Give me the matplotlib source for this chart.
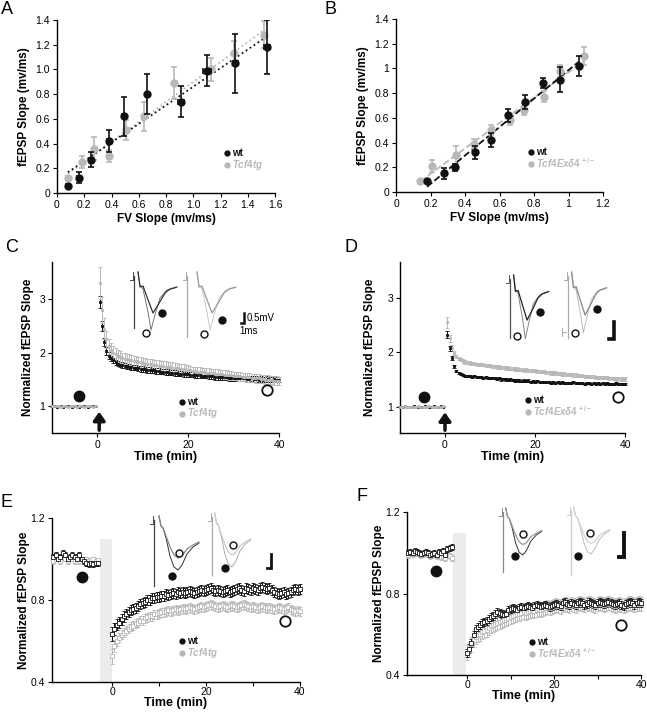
import numpy as np
import matplotlib.pyplot as plt

plt.rcParams['font.family'] = ['Liberation Sans', 'DejaVu Sans']
plt.rcParams['mathtext.fontset'] = 'custom'
plt.rcParams['mathtext.it'] = 'Liberation Sans:italic:bold'
plt.rcParams['mathtext.rm'] = 'Liberation Sans:bold'

BLACK = '#111111'
GRAY = '#b8b8b8'

# ---- panel A: input/output, wt vs Tcf4tg
a_wt_x = [0.08, 0.16, 0.25, 0.38, 0.49, 0.66, 0.91, 1.10, 1.31, 1.54]
a_wt_y = [0.06, 0.125, 0.27, 0.42, 0.62, 0.80, 0.74, 0.99, 1.05, 1.18]
a_wt_yerr = [0.01, 0.045, 0.06, 0.09, 0.16, 0.16, 0.125, 0.125, 0.24, 0.22]
a_wt_xerr = [0.01, 0.01, 0.01, 0.01, 0.01, 0.01, 0.02, 0.03, 0.02, 0.02]
a_tg_x = [0.08, 0.18, 0.27, 0.38, 0.51, 0.64, 0.86, 1.13, 1.30, 1.52]
a_tg_y = [0.12, 0.25, 0.36, 0.30, 0.51, 0.62, 0.89, 1.00, 1.13, 1.28]
a_tg_yerr = [0.02, 0.05, 0.09, 0.05, 0.08, 0.12, 0.13, 0.09, 0.10, 0.11]

# ---- panel B: input/output, wt vs Tcf4Exd4 +/-
b_wt_x = [0.18, 0.28, 0.34, 0.46, 0.55, 0.65, 0.75, 0.85, 0.95, 1.06]
b_wt_y = [0.086, 0.15, 0.20, 0.32, 0.42, 0.62, 0.73, 0.88, 0.91, 1.02]
b_wt_yerr = [0.01, 0.045, 0.03, 0.05, 0.055, 0.05, 0.055, 0.04, 0.10, 0.08]
b_tg_x = [0.14, 0.21, 0.35, 0.45, 0.55, 0.66, 0.74, 0.86, 0.95, 1.09]
b_tg_y = [0.087, 0.21, 0.30, 0.39, 0.50, 0.58, 0.66, 0.77, 0.98, 1.10]
b_tg_yerr = [0.01, 0.05, 0.07, 0.04, 0.04, 0.04, 0.04, 0.045, 0.05, 0.075]

# ---- panel C: LTP, wt vs Tcf4tg (baseline -10..-0.5, post 0.5..40, every 0.5 min)
c_wt_base = [1.0, 1.01, 0.99, 1.0, 1.0, 0.99, 1.0, 1.01, 1.0, 0.99,
             1.0, 1.0, 0.99, 1.0, 1.01, 1.0, 0.99, 1.0, 1.0, 1.0]
c_tg_base = [1.01, 1.0, 1.0, 1.01, 0.99, 1.0, 1.0, 0.99, 1.0, 1.01,
             1.0, 0.99, 1.0, 1.0, 0.99, 1.01, 1.0, 1.0, 0.99, 1.01]
c_wt_post = [2.95, 2.50, 2.20, 2.03, 1.95, 1.90, 1.86, 1.82, 1.80, 1.78,
             1.77, 1.76, 1.75, 1.74, 1.73, 1.72, 1.72, 1.71, 1.70, 1.70,
             1.69, 1.68, 1.68, 1.67, 1.67, 1.66, 1.66, 1.65, 1.65, 1.64,
             1.64, 1.63, 1.63, 1.62, 1.62, 1.61, 1.61, 1.60, 1.60, 1.60,
             1.59, 1.59, 1.58, 1.58, 1.58, 1.57, 1.57, 1.57, 1.56, 1.56,
             1.56, 1.55, 1.55, 1.55, 1.54, 1.54, 1.54, 1.53, 1.53, 1.53,
             1.53, 1.52, 1.52, 1.52, 1.52, 1.51, 1.51, 1.52, 1.51, 1.51,
             1.50, 1.51, 1.50, 1.50, 1.51, 1.50, 1.50, 1.51, 1.50, 1.50]
c_tg_post = [3.30, 2.80, 2.45, 2.25, 2.12, 2.05, 2.00, 1.97, 1.94, 1.92,
             1.90, 1.89, 1.88, 1.87, 1.86, 1.85, 1.84, 1.83, 1.82, 1.81,
             1.80, 1.79, 1.79, 1.78, 1.77, 1.77, 1.76, 1.75, 1.75, 1.74,
             1.73, 1.73, 1.72, 1.71, 1.71, 1.70, 1.69, 1.69, 1.68, 1.67,
             1.67, 1.66, 1.66, 1.65, 1.65, 1.64, 1.64, 1.63, 1.63, 1.62,
             1.62, 1.61, 1.61, 1.60, 1.60, 1.59, 1.59, 1.58, 1.58, 1.57,
             1.57, 1.56, 1.56, 1.55, 1.55, 1.54, 1.54, 1.53, 1.53, 1.52,
             1.52, 1.51, 1.51, 1.50, 1.50, 1.49, 1.49, 1.48, 1.48, 1.47]
c_wt_err = [0.12, 0.10, 0.08, 0.07, 0.06] + [0.05] * 75
c_tg_err = [0.30, 0.25, 0.20, 0.16, 0.14, 0.13, 0.12, 0.12, 0.11, 0.11] + [0.10] * 30 + [0.08] * 40

# ---- panel D: LTP, wt vs Tcf4Exd4 +/-
d_wt_base = [1.0, 0.99, 1.01, 1.0, 0.99, 1.0, 1.01, 0.99, 1.0, 1.0,
             0.99, 1.01, 1.0, 0.99, 1.0, 1.01, 1.0, 0.99, 1.01, 1.0]
d_tg_base = [1.0, 1.0, 1.01, 0.99, 1.0, 1.0, 0.99, 1.0, 1.01, 1.0,
             1.0, 0.99, 1.0, 1.01, 1.0, 0.99, 1.0, 1.0, 1.0, 1.01]
d_wt_post = [2.32, 2.07, 1.89, 1.74, 1.66, 1.62, 1.60, 1.58, 1.57, 1.56,
             1.57, 1.55, 1.56, 1.55, 1.54, 1.55, 1.53, 1.54, 1.53, 1.52,
             1.53, 1.52, 1.51, 1.52, 1.50, 1.51, 1.50, 1.49, 1.50, 1.49,
             1.48, 1.49, 1.48, 1.47, 1.48, 1.47, 1.48, 1.46, 1.47, 1.46,
             1.47, 1.45, 1.46, 1.45, 1.46, 1.45, 1.44, 1.45, 1.44, 1.45,
             1.44, 1.45, 1.43, 1.44, 1.43, 1.44, 1.45, 1.43, 1.44, 1.43,
             1.44, 1.42, 1.43, 1.44, 1.42, 1.43, 1.42, 1.43, 1.42, 1.43,
             1.42, 1.43, 1.42, 1.41, 1.42, 1.43, 1.42, 1.41, 1.42, 1.42]
d_tg_post = [2.55, 2.25, 2.08, 1.98, 1.92, 1.88, 1.86, 1.84, 1.82, 1.81,
             1.80, 1.79, 1.79, 1.78, 1.78, 1.77, 1.77, 1.76, 1.75, 1.75,
             1.74, 1.74, 1.73, 1.73, 1.72, 1.72, 1.71, 1.71, 1.70, 1.70,
             1.69, 1.69, 1.68, 1.68, 1.67, 1.68, 1.67, 1.66, 1.66, 1.66,
             1.65, 1.65, 1.64, 1.64, 1.63, 1.63, 1.62, 1.62, 1.62, 1.61,
             1.61, 1.60, 1.60, 1.59, 1.59, 1.59, 1.58, 1.58, 1.57, 1.57,
             1.57, 1.56, 1.56, 1.55, 1.55, 1.55, 1.54, 1.54, 1.54, 1.53,
             1.53, 1.53, 1.52, 1.52, 1.52, 1.51, 1.52, 1.51, 1.51, 1.51]
d_wt_err = [0.06, 0.05, 0.04, 0.03] + [0.02] * 76
d_tg_err = [0.10, 0.06, 0.05, 0.04] + [0.03] * 76

# ---- panel E: LTD, wt vs Tcf4tg (baseline -12.5..-3, post 0..40)
e_wt_base = [1.01, 1.02, 1.0, 1.01, 1.03, 1.02, 1.0, 1.01, 1.02, 1.01,
             1.0, 1.02, 1.0, 0.99, 0.98, 0.975, 0.98, 0.975, 0.98, 0.98]
e_tg_base = [0.99, 1.0, 1.0, 0.99, 1.01, 1.0, 0.99, 1.0, 1.0, 0.99,
             1.0, 0.99, 1.0, 0.99, 1.0, 0.99, 0.995, 1.0, 0.99, 0.995]
e_wt_post = [0.635, 0.66, 0.68, 0.69, 0.705, 0.72, 0.73, 0.74, 0.75, 0.755, 0.76,
             0.77, 0.78, 0.785, 0.79, 0.80, 0.80, 0.81, 0.81, 0.815, 0.815,
             0.82, 0.82, 0.83, 0.825, 0.83, 0.835, 0.83, 0.84, 0.835, 0.84,
             0.835, 0.84, 0.845, 0.84, 0.835, 0.84, 0.845, 0.85, 0.845, 0.85,
             0.855, 0.86, 0.85, 0.845, 0.85, 0.845, 0.84, 0.845, 0.85, 0.84,
             0.845, 0.85, 0.855, 0.86, 0.85, 0.845, 0.86, 0.855, 0.85, 0.86,
             0.855, 0.85, 0.86, 0.865, 0.86, 0.855, 0.86, 0.85, 0.84, 0.835,
             0.83, 0.835, 0.84, 0.83, 0.835, 0.84, 0.85, 0.855, 0.85, 0.855]
e_tg_post = [0.525, 0.575, 0.60, 0.615, 0.63, 0.64, 0.65, 0.66, 0.67, 0.675, 0.685,
             0.69, 0.70, 0.70, 0.71, 0.715, 0.72, 0.72, 0.73, 0.73, 0.735,
             0.74, 0.74, 0.745, 0.75, 0.745, 0.75, 0.755, 0.75, 0.755, 0.76,
             0.755, 0.76, 0.765, 0.76, 0.755, 0.76, 0.765, 0.77, 0.765, 0.77,
             0.775, 0.78, 0.775, 0.77, 0.765, 0.77, 0.775, 0.77, 0.765, 0.77,
             0.775, 0.77, 0.765, 0.77, 0.775, 0.78, 0.775, 0.77, 0.765, 0.77,
             0.765, 0.76, 0.765, 0.77, 0.765, 0.76, 0.765, 0.76, 0.755, 0.76,
             0.765, 0.76, 0.755, 0.76, 0.765, 0.755, 0.75, 0.745, 0.75, 0.745]
e_wt_err = [0.035, 0.03] + [0.025] * 79
e_tg_err = [0.035, 0.03] + [0.022] * 79
e_base_err = [0.012] * 20

# ---- panel F: LTD, wt vs Tcf4Exd4 +/- (baseline -13.5..-3.5, post 0..40)
f_wt_base = [1.0, 1.005, 1.0, 1.01, 1.005, 1.0, 0.995, 1.0, 1.005, 1.0, 0.99,
             0.995, 1.0, 0.99, 1.005, 1.0, 1.01, 0.99, 1.02, 1.025, 1.03]
f_tg_base = [0.99, 1.0, 0.995, 1.0, 1.005, 0.995, 0.99, 0.995, 1.0, 0.995, 0.985,
             0.99, 0.995, 0.985, 0.99, 0.98, 0.985, 0.975, 0.99, 0.985, 0.975]
f_wt_post = [0.51, 0.53, 0.555, 0.595, 0.625, 0.635, 0.645, 0.655, 0.66, 0.665, 0.675,
             0.685, 0.69, 0.70, 0.71, 0.705, 0.70, 0.695, 0.70, 0.72, 0.725,
             0.73, 0.725, 0.72, 0.73, 0.735, 0.73, 0.735, 0.74, 0.735, 0.73,
             0.74, 0.745, 0.74, 0.735, 0.74, 0.745, 0.74, 0.735, 0.74, 0.745,
             0.75, 0.745, 0.74, 0.755, 0.76, 0.75, 0.745, 0.755, 0.75, 0.745,
             0.755, 0.76, 0.755, 0.745, 0.75, 0.76, 0.755, 0.75, 0.745, 0.755,
             0.76, 0.755, 0.75, 0.755, 0.76, 0.755, 0.75, 0.745, 0.75, 0.755,
             0.745, 0.74, 0.75, 0.755, 0.76, 0.755, 0.745, 0.755, 0.76, 0.755]
f_tg_post = [0.51, 0.525, 0.55, 0.57, 0.585, 0.595, 0.60, 0.61, 0.615, 0.62, 0.63,
             0.64, 0.645, 0.65, 0.655, 0.66, 0.665, 0.67, 0.675, 0.68, 0.685,
             0.69, 0.695, 0.70, 0.70, 0.705, 0.71, 0.705, 0.71, 0.715, 0.72,
             0.715, 0.72, 0.725, 0.72, 0.725, 0.73, 0.735, 0.73, 0.735, 0.74,
             0.745, 0.74, 0.735, 0.745, 0.75, 0.745, 0.74, 0.75, 0.745, 0.74,
             0.75, 0.755, 0.75, 0.745, 0.75, 0.755, 0.75, 0.745, 0.74, 0.75,
             0.755, 0.75, 0.745, 0.75, 0.755, 0.75, 0.745, 0.74, 0.745, 0.75,
             0.745, 0.74, 0.745, 0.75, 0.755, 0.75, 0.745, 0.75, 0.755, 0.75]
f_wt_err = [0.02] * 81
f_tg_err = [0.035] * 81
f_base_err = [0.015] * 21

# ---- inset trace shapes (relative pixel offsets from stimulus artifact)
ltp_x_shallow = [4, 6, 9, 13, 19, 24, 31, 36, 43]
ltp_y_shallow = [0, 15, 14, 25, 41, 33, 21, 17, 15]
ltp_x_deep = [4, 6, 9, 14, 17, 21, 26, 33, 41]
ltp_y_deep = [0, 13, 17, 40, 58, 43, 26, 18, 16]
ltd_x = [3, 5, 7, 10, 14, 18, 22, 26, 31, 37, 43]
ltd_y_deep = [0, 10, 12, 22, 40, 51, 54, 49, 38, 31, 27]
ltd_y_shallow = [0, 10, 12, 20, 31, 39, 42, 40, 33, 29, 26]


fig = plt.figure(figsize=(6.47, 7.12), dpi=100)


def px_axes(left, top, right, bottom):
    W, H = 647, 712
    return fig.add_axes([left / W, 1 - bottom / H, (right - left) / W, (bottom - top) / H])


def style(ax):
    for s in ['top', 'right']:
        ax.spines[s].set_visible(False)
    for s in ['left', 'bottom']:
        ax.spines[s].set_linewidth(1.0)
    ax.tick_params(labelsize=7.5, length=3, width=0.8, direction='out', pad=2)


def io_panel(ax, wx, wy, wyerr, tx, ty, tyerr, ls, wxerr=None):
    ax.errorbar(tx, ty, yerr=tyerr, fmt='o', color=GRAY, ms=5, capsize=2.5,
                elinewidth=1.2, capthick=1.2, zorder=3)
    ax.errorbar(wx, wy, yerr=wyerr, xerr=wxerr, fmt='o', color=BLACK, ms=5,
                capsize=2.5, elinewidth=1.2, capthick=1.2, zorder=4)
    for x, y, c in [(tx, ty, GRAY), (wx, wy, BLACK)]:
        k, b = np.polyfit(x, y, 1)
        xs = np.array([min(x), max(x)])
        ax.plot(xs, k * xs + b, ls=ls, color=c, lw=1.3, zorder=2)


def ts(ax, t, y, err, color, ms=2.2, filled=False):
    ax.errorbar(t, y, yerr=err, fmt='s', color=color, ms=ms,
                mfc=color if filled else 'white', mec=color,
                mew=0.6, capsize=1.2, elinewidth=0.7, capthick=0.7, clip_on=False, zorder=3)


# ---- A
axA = px_axes(57, 20, 275, 193)
io_panel(axA, a_wt_x, a_wt_y, a_wt_yerr, a_tg_x, a_tg_y, a_tg_yerr, ':', a_wt_xerr)
axA.set_xlim(0, 1.6)
axA.set_ylim(0, 1.4)
axA.set_xticks(np.arange(0, 1.61, 0.2))
axA.set_xticklabels(['0', '0.2', '0.4', '0.6', '0.8', '1.0', '1.2', '1.4', '1.6'])
axA.set_yticks(np.arange(0, 1.41, 0.2))
axA.set_yticklabels(['0', '0.2', '0.4', '0.6', '0.8', '1.0', '1.2', '1.4'])
axA.set_xlabel('FV Slope (mv/ms)', fontsize=8.5, fontweight='bold', labelpad=2)
axA.set_ylabel('fEPSP Slope (mv/ms)', fontsize=8.5, fontweight='bold', labelpad=4)
style(axA)

# ---- B
axB = px_axes(396, 19, 603, 192)
io_panel(axB, b_wt_x, b_wt_y, b_wt_yerr, b_tg_x, b_tg_y, b_tg_yerr, '--')
axB.set_xlim(0, 1.2)
axB.set_ylim(0, 1.4)
axB.set_xticks(np.arange(0, 1.21, 0.2))
axB.set_xticklabels(['0', '0.2', '0.4', '0.6', '0.8', '1', '1.2'])
axB.set_yticks(np.arange(0, 1.41, 0.2))
axB.set_yticklabels(['0', '0.2', '0.4', '0.6', '0.8', '1', '1.2', '1.4'])
axB.set_xlabel('FV Slope (mv/ms)', fontsize=8.5, fontweight='bold', labelpad=2)
axB.set_ylabel('fEPSP Slope (mv/ms)', fontsize=8.5, fontweight='bold', labelpad=4)
style(axB)

t_base_cd = np.arange(-10, -0.25, 0.5)
t_post_cd = np.arange(0.5, 40.01, 0.5)
t_base_e = np.arange(-12.5, -2.9, 0.5)
t_base_f = np.arange(-13.5, -3.4, 0.5)
t_post_ef = np.arange(0, 40.01, 0.5)

# ---- C
axC = px_axes(52, 262, 279, 433)
ts(axC, t_base_cd, c_wt_base, [0.01] * 20, BLACK, ms=1.6, filled=True)
ts(axC, t_base_cd, c_tg_base, [0.01] * 20, GRAY, ms=1.6, filled=True)
ts(axC, t_post_cd, c_wt_post, c_wt_err, BLACK, ms=1.6, filled=True)
ts(axC, t_post_cd, c_tg_post, c_tg_err, GRAY, ms=1.6, filled=True)
axC.set_ylim(0.5, 3.7)
axC.set_yticks([1, 2, 3])
axC.plot([-4], [1.19], 'o', color=BLACK, ms=7.5, zorder=5)
axC.plot([37.4], [1.3], 'o', mfc='white', mec=BLACK, mew=1.3, ms=7.5, zorder=5)
axC.annotate('', xy=(0.4, 0.95), xytext=(0.4, 0.5),
             arrowprops=dict(arrowstyle='-|>,head_width=0.35,head_length=0.5', lw=2.5, color=BLACK))

# ---- D
axD = px_axes(400, 262, 625, 433)
ts(axD, t_base_cd, d_wt_base, [0.01] * 20, BLACK, ms=1.6, filled=True)
ts(axD, t_base_cd, d_tg_base, [0.01] * 20, GRAY, ms=1.6, filled=True)
ts(axD, t_post_cd, d_tg_post, d_tg_err, GRAY, ms=1.6, filled=True)
ts(axD, t_post_cd, d_wt_post, d_wt_err, BLACK, ms=1.6, filled=True)
axD.set_ylim(0.52, 3.65)
axD.set_yticks([1, 2, 3])
axD.plot([-4.6], [1.18], 'o', color=BLACK, ms=7.5, zorder=5)
axD.plot([38.5], [1.18], 'o', mfc='white', mec=BLACK, mew=1.3, ms=7.5, zorder=5)
axD.annotate('', xy=(0.0, 0.95), xytext=(0.0, 0.52),
             arrowprops=dict(arrowstyle='-|>,head_width=0.35,head_length=0.5', lw=2.5, color=BLACK))

for ax, lp in ((axC, 4), (axD, 8)):
    ax.set_xlim(-10, 40)
    ax.set_xticks([0, 20, 40])
    ax.set_xlabel('Time (min)', fontsize=9, fontweight='bold', labelpad=1)
    ax.set_ylabel('Normalized fEPSP Slope', fontsize=8.5, fontweight='bold', labelpad=lp)
    style(ax)

# ---- E
axE = px_axes(52, 518, 300, 682)
axE.axvspan(-2.5, -0.1, ymax=(1.097 - 0.4) / 0.8, color='#ececec', lw=0, zorder=0)
ts(axE, t_base_e, e_tg_base, e_base_err, GRAY)
ts(axE, t_base_e, e_wt_base, e_base_err, BLACK)
ts(axE, t_post_ef, e_tg_post, e_tg_err, GRAY)
ts(axE, t_post_ef, e_wt_post, e_wt_err, BLACK)
axE.set_xlim(-12.8, 40)
axE.plot([-6.4], [0.91], 'o', color=BLACK, ms=7.5, zorder=5)
axE.plot([36.7], [0.70], 'o', mfc='white', mec=BLACK, mew=1.3, ms=7.5, zorder=5)

# ---- F
axF = px_axes(407, 512, 641, 675)
axF.axvspan(-3.2, -0.15, ymax=(1.096 - 0.4) / 0.8, color='#ececec', lw=0, zorder=0)
ts(axF, t_base_f, f_tg_base, f_base_err, GRAY)
ts(axF, t_base_f, f_wt_base, f_base_err, BLACK)
ts(axF, t_post_ef, f_tg_post, f_tg_err, GRAY)
ts(axF, t_post_ef, f_wt_post, f_wt_err, BLACK)
axF.set_xlim(-13.8, 40)
axF.plot([-7.2], [0.912], 'o', color=BLACK, ms=7.5, zorder=5)
axF.plot([35.5], [0.645], 'o', mfc='white', mec=BLACK, mew=1.3, ms=7.5, zorder=5)

for ax in (axE, axF):
    ax.set_ylim(0.4, 1.2)
    ax.set_yticks([0.4, 0.8, 1.2])
    ax.set_xticks([0, 10, 20, 30, 40])
    ax.set_xticklabels(['0', '', '20', '', '40'])
    style(ax)
    ax.tick_params(axis='x', pad=0.5)
    ax.set_xlabel('Time (min)', fontsize=9, fontweight='bold', labelpad=0)
    ax.set_ylabel('Normalized fEPSP Slope', fontsize=8.5, fontweight='bold', labelpad=0)

# ---- overlay in pixel coordinates: letters, legends, inset traces
ov = fig.add_axes([0, 0, 1, 1], zorder=10)
ov.set_xlim(0, 647)
ov.set_ylim(712, 0)
ov.axis('off')
ov.patch.set_alpha(0)

for letter, x, y in [('A', 1, 1), ('B', 325, 1), ('C', 5, 239), ('D', 344, 239),
                     ('E', 0, 494), ('F', 356, 488)]:
    ov.text(x, y, letter, fontsize=13, va='top', ha='left')

tg_label = r'$\mathit{Tcf4tg}$'
ex_label = r'$\mathit{Tcf4Ex\delta4}^{\,+/-}$'
for x, y, lab in [(227, 153, tg_label), (531, 152, ex_label), (182, 402, tg_label),
                  (528, 400, ex_label), (182, 641, tg_label), (532, 642, ex_label)]:
    ov.plot([x], [y], 'o', color=BLACK, ms=3.5)
    ov.text(x + 5, y, 'wt', fontsize=7, fontweight='bold', va='center', color=BLACK)
    ov.plot([x], [y + 11.5], 'o', color=GRAY, ms=3.5)
    ov.text(x + 5, y + 11.5, lab, fontsize=7, va='center', color=GRAY)


def inset(x0, y0, length, art_col, xs, ys, xd, yd, col_s, col_d, fill_at, open_at,
          sx=1.0, sy=1.0, dx=0):
    ov.plot([x0, x0], [y0 + 4, y0 + length], color=art_col, lw=0.9)
    ov.plot([x0 - 4, x0 - 1, x0 - 1], [y0 + 8, y0 + 8, y0], color=art_col, lw=0.7)
    ov.plot([x0 + dx + v * sx for v in xd], [y0 + v * sy for v in yd], color=col_d, lw=0.7)
    ov.plot([x0 + dx + v * sx for v in xs], [y0 + v * sy for v in ys], color=col_s, lw=0.9)
    ov.plot([fill_at[0]], [fill_at[1]], 'o', color=BLACK, ms=5)
    ov.plot([open_at[0]], [open_at[1]], 'o', mfc='white', mec=BLACK, mew=1.0, ms=5)


# C insets
inset(134, 272, 56, '#444444', ltp_x_shallow, ltp_y_shallow, ltp_x_deep, ltp_y_deep,
      '#333333', '#777777', (162, 313), (146, 333))
inset(187, 272, 65, '#aaaaaa', ltp_x_shallow, ltp_y_shallow, ltp_x_deep, ltp_y_deep,
      '#999999', '#c8c8c8', (222, 320), (204, 334), dx=6)
ov.plot([244, 244, 241], [313, 323, 323], color=BLACK, lw=1.8, solid_joinstyle='miter')
ov.text(247, 318, '0.5mV', fontsize=7, va='center')
ov.text(239, 331, '1ms', fontsize=7, va='center')

# D insets
inset(510, 275, 63, '#555555', ltp_x_shallow, ltp_y_shallow, ltp_x_deep, ltp_y_deep,
      '#222222', '#888888', (540, 312), (517, 336), sx=0.9, sy=1.1)
inset(568, 272, 66, '#aaaaaa', ltp_x_shallow, ltp_y_shallow, ltp_x_deep, ltp_y_deep,
      '#888888', '#bbbbbb', (597, 309), (575, 333), sx=0.9, sy=1.05)
ov.plot([562, 562], [328, 336], color='#aaaaaa', lw=0.7)
ov.plot([562, 566], [332, 332], color='#aaaaaa', lw=0.7)
ov.plot([614, 614, 609], [322, 339, 339], color=BLACK, lw=2.6, solid_joinstyle='miter')

# E insets
inset(154, 516, 70, '#444444', ltd_x, ltd_y_shallow, ltd_x, ltd_y_deep,
      '#888888', '#333333', (172, 576), (179, 553), dx=2)
inset(212, 513, 62, '#aaaaaa', ltd_x, ltd_y_shallow, ltd_x, ltd_y_deep,
      '#cccccc', '#aaaaaa', (225, 568), (233, 545), sx=0.9)
ov.plot([271, 271, 267], [554, 568, 568], color=BLACK, lw=2.0, solid_joinstyle='miter')

# F insets
inset(503, 508, 64, '#888888', ltd_x, ltd_y_shallow, ltd_x, ltd_y_deep,
      '#999999', '#333333', (515, 556), (523, 534), sx=0.9, sy=0.87)
inset(571, 507, 68, '#cccccc', ltd_x, ltd_y_shallow, ltd_x, ltd_y_deep,
      '#d5d5d5', '#bbbbbb', (578, 556), (590, 533), sx=0.9, sy=0.87)
ov.plot([624, 624, 619], [533, 557, 557], color=BLACK, lw=2.8, solid_joinstyle='miter')

fig.savefig('out.png', dpi=100)
